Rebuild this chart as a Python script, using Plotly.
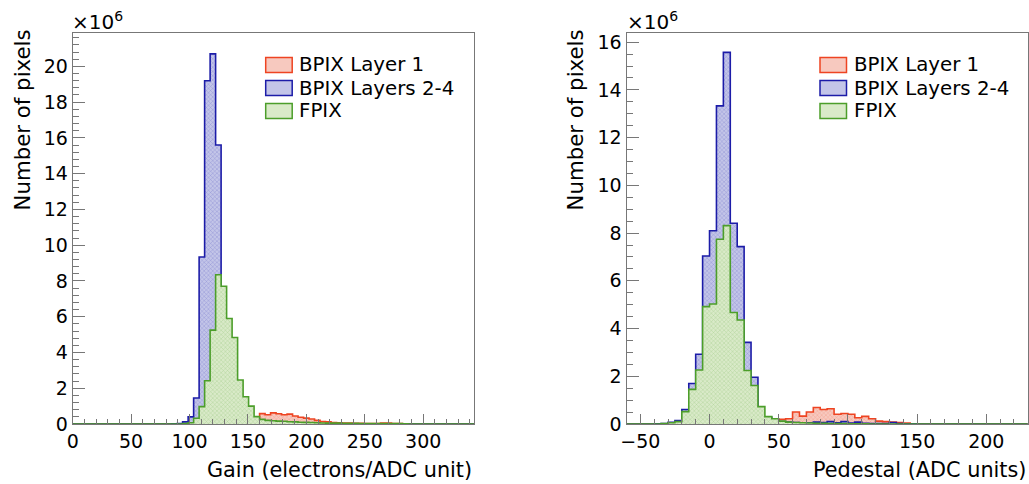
import plotly.graph_objects as go

# ---------------- data (values in units of 10^6 pixels) ----------------
gain_bin_width = 4.705
gain_nbins = 73
gain_first_bin = 17  # index of first listed bin
gain_bpix_l1 = [0, 0, 0, 0, 0.02, 0.03, 0.05, 0.06, 0.05, 0.15, 0.08, 0.10, 0.12, 0.15,
                0.20, 0.28, 0.33, 0.58, 0.52, 0.62, 0.57, 0.52, 0.55, 0.45, 0.38, 0.33,
                0.28, 0.20, 0.14, 0.12, 0.08, 0.07, 0.05, 0.05, 0.04, 0.04, 0.03, 0.03,
                0.03, 0.05, 0.06, 0.03, 0.02]
gain_bpix_l24 = [0, 0.01, 0.03, 0.12, 0.40, 1.45, 9.34, 19.2, 20.7, 15.6, 3.40, 1.08,
                 0.40, 0.12, 0.07, 0.05, 0.04, 0.04, 0.03, 0.03, 0.03, 0.02, 0.02, 0.02,
                 0.01, 0.01, 0.01, 0.01, 0.01, 0.01, 0.01, 0.01, 0.01, 0.01, 0.01, 0.01,
                 0.01, 0.01, 0.01]
gain_fpix = [0, 0, 0, 0.02, 0.07, 0.32, 0.97, 2.42, 5.25, 8.35, 7.70, 5.90, 4.84, 2.46,
             1.52, 1.00, 0.41, 0.26, 0.20, 0.18, 0.16, 0.15, 0.13, 0.12, 0.10, 0.09,
             0.08, 0.07, 0.06, 0.05, 0.05, 0.05, 0.04, 0.04, 0.04, 0.03, 0.03, 0.03,
             0.03, 0.02, 0.02, 0.02, 0.02, 0.01]

ped_bin_width = 5.0
ped_lo = -60.0
ped_nbins = 58
ped_first_bin = 3  # first listed bin starts at -45
ped_bpix_l1 = [0, 0, 0, 0, 0, 0, 0, 0, 0, 0, 0, 0, 0, 0.01, 0.02, 0.04, 0.06, 0.10,
               0.13, 0.20, 0.22, 0.50, 0.33, 0.50, 0.69, 0.61, 0.64, 0.41, 0.44, 0.41,
               0.26, 0.32, 0.22, 0.12, 0.10, 0.08, 0.06, 0.04]
ped_bpix_l24 = [0, 0.01, 0.02, 0.07, 0.14, 0.61, 1.70, 2.92, 7.04, 8.10, 13.33, 15.57,
                8.41, 7.43, 3.42, 1.96, 0.30, 0.28, 0.15, 0.10, 0.08, 0.06, 0.05, 0.05,
                0.08, 0.06, 0.10, 0.05, 0.10, 0.04, 0.08, 0.03, 0.02, 0.02, 0.02, 0.06,
                0.02, 0.01, 0.01]
ped_fpix = [0, 0, 0.02, 0.05, 0.10, 0.52, 1.45, 2.26, 4.92, 5.03, 7.74, 8.31, 4.67,
            4.36, 2.24, 1.61, 0.73, 0.31, 0.22, 0.12, 0.08, 0.06, 0.05, 0.04, 0.03,
            0.03, 0.02, 0.02, 0.02, 0.01, 0.01, 0.01]

series_names = ["BPIX Layer 1", "BPIX Layers 2-4", "FPIX"]
line_colors = ["#ee4422", "#1c1ca8", "#4c9e2a"]
fill_colors = ["#f7c9bf", "#c3c5e8", "#d9eac8"]

gain_ticks = [0, 50, 100, 150, 200, 250, 300]
ped_ticks = [-50, 0, 50, 100, 150, 200]
gain_yticks = list(range(0, 21, 2))
ped_yticks = list(range(0, 17, 2))

W, H = 1029, 484
FONT = "DejaVu Sans, Liberation Sans, Arial, sans-serif"


def full_counts(vals, first, nb):
    c = [0.0] * nb
    for i, v in enumerate(vals):
        if 0 <= first + i < nb:
            c[first + i] = v
    return c


def step_xy(lo, bw, counts):
    xs, ys = [], []
    for i, c in enumerate(counts):
        xs.append(lo + i * bw)
        ys.append(c)
    xs.append(lo + len(counts) * bw)
    ys.append(counts[-1])
    return xs, ys


fig = go.Figure()

panels = [
    dict(lo=0.0, bw=gain_bin_width, nb=gain_nbins, first=gain_first_bin,
         data=[gain_bpix_l1, gain_bpix_l24, gain_fpix], xa="x", ya="y"),
    dict(lo=ped_lo, bw=ped_bin_width, nb=ped_nbins, first=ped_first_bin,
         data=[ped_bpix_l1, ped_bpix_l24, ped_fpix], xa="x2", ya="y2"),
]

for p in panels:
    for name, vals, lc, fc in zip(series_names, p["data"], line_colors, fill_colors):
        counts = full_counts(vals, p["first"], p["nb"])
        xs, ys = step_xy(p["lo"], p["bw"], counts)
        fig.add_trace(go.Scatter(
            x=xs, y=ys, mode="lines", line=dict(color=lc, width=1.6, shape="hv"),
            fill="tozeroy", fillcolor=fc,
            fillpattern=dict(shape="x", size=3, solidity=0.25, fgcolor=lc,
                             fgopacity=0.35, bgcolor=fc),
            name=name, showlegend=False, xaxis=p["xa"], yaxis=p["ya"]))

px2x = lambda px: px / W
py2y = lambda py: 1 - py / H

ydom = [py2y(424), py2y(33.3)]
common_ax = dict(showgrid=False, zeroline=False, showline=True, mirror=True, automargin=False,
                 linecolor="#777777", linewidth=1, ticks="inside", tickcolor="#777777",
                 tickfont=dict(family=FONT, size=19, color="black"))

fig.update_layout(
    width=W, height=H, margin=dict(l=0, r=0, t=0, b=0, autoexpand=False),
    paper_bgcolor="white", plot_bgcolor="white",
    xaxis=dict(domain=[px2x(72.7), px2x(474)], range=[0, 343.5], tickvals=gain_ticks,
               ticklen=10, minor=dict(dtick=10, ticklen=5, ticks="inside", tickcolor="#777777"),
               anchor="y", **common_ax),
    yaxis=dict(domain=ydom, range=[0, 21.85], tickvals=gain_yticks, ticklen=12,
               minor=dict(dtick=0.4, ticklen=6, ticks="inside", tickcolor="#777777"),
               anchor="x", **common_ax),
    xaxis2=dict(domain=[px2x(626.5), px2x(1027.8)], range=[-60, 230], tickvals=ped_ticks,
                ticklen=10, minor=dict(dtick=10, ticklen=5, ticks="inside", tickcolor="#777777"),
                anchor="y2", **common_ax),
    yaxis2=dict(domain=ydom, range=[0, 16.37], tickvals=ped_yticks, ticklen=12,
                minor=dict(dtick=0.5, ticklen=6, ticks="inside", tickcolor="#777777"),
                anchor="x2", **common_ax),
)

ann = []
shapes = []
TXT = dict(showarrow=False, xref="paper", yref="paper")
# axis titles
ann.append(dict(text="Gain (electrons/ADC unit)", x=px2x(474), y=py2y(484), xanchor="right",
                yanchor="bottom", font=dict(family=FONT, size=20.8, color="black"), **TXT))
ann.append(dict(text="Pedestal (ADC units)", x=px2x(1027.5), y=py2y(484), xanchor="right",
                yanchor="bottom", font=dict(family=FONT, size=20.8, color="black"), **TXT))
for xc in [22, 575]:
    ann.append(dict(text="Number of pixels", x=px2x(xc), y=py2y(28), xanchor="center",
                    yanchor="top", textangle=-90,
                    font=dict(family=FONT, size=21.3, color="black"), **TXT))
# multiplier
for xl in [70, 624.5]:
    ann.append(dict(text="×10<sup>6</sup>", x=px2x(xl), y=py2y(36), xanchor="left",
                    yanchor="bottom", font=dict(family=FONT, size=20, color="black"), **TXT))
# legends
rows = [65, 88, 111]
for bx0, tx in [(265.7, 297), (820, 851.5)]:
    for r, name, lc, fc in zip(rows, series_names, line_colors, fill_colors):
        shapes.append(dict(type="rect", xref="paper", yref="paper",
                           x0=px2x(bx0), x1=px2x(bx0 + 26.5), y0=py2y(r + 7.5), y1=py2y(r - 7.5),
                           fillcolor=fc, line=dict(color=lc, width=1.5)))
        ann.append(dict(text=name, x=px2x(tx), y=py2y(r), xanchor="left", yanchor="middle",
                        font=dict(family=FONT, size=19.8, color="black"), **TXT))

fig.update_layout(annotations=ann, shapes=shapes)
fig.write_html("out.html", post_script="document.body.style.margin='0';",
               config={"displayModeBar": False})
